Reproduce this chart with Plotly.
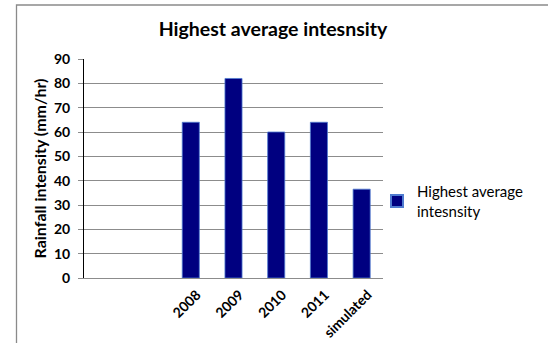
import plotly.graph_objects as go

# Categories (two empty slots precede the yearly values on the category axis)
categories = [" ", "  ", "2008", "2009", "2010", "2011", "simulated"]
intensity = [None, None, 64, 82, 60, 64, 36.5]
series_name = "Highest average<br>intesnsity"
y_ticks = [0, 10, 20, 30, 40, 50, 60, 70, 80, 90]

W, H = 548, 343
L, R, T, B = 84, 165, 59, 65
pw, ph = W - L - R, H - T - B

def px_x(p):
    return (p - L) / pw

def px_y(p):
    return (H - B - p) / ph

fig = go.Figure()
fig.add_trace(go.Bar(
    x=categories,
    y=intensity,
    name=series_name,
    marker=dict(color="#000080", line=dict(color="#4f7bd0", width=0.8)),
    showlegend=True,
))

fig.update_layout(
    width=W, height=H,
    margin=dict(l=L, r=R, t=T, b=B, autoexpand=False),
    paper_bgcolor="white",
    plot_bgcolor="white",
    bargap=0.6,
    font=dict(family="Lato", color="black"),
    title=dict(
        text="<b>Highest average intesnsity</b>",
        font=dict(family="Lato", size=19.5, color="black"),
        x=px_x(273), xref="paper", xanchor="center",
        y=1 - 29 / H, yref="container", yanchor="middle",
    ),
    showlegend=True,
    legend=dict(
        x=px_x(377), xanchor="left",
        y=px_y(175), yanchor="top",
        font=dict(family="Lato", size=15, color="black"),
        bgcolor="rgba(0,0,0,0)",
        itemsizing="constant",
    ),
    xaxis=dict(
        type="category",
        categoryorder="array",
        categoryarray=categories,
        range=[-0.5, len(categories) - 0.5],
        tickangle=-45,
        tickfont=dict(family="Lato", size=14, color="black", weight="bold"),
        ticklabelshift=6,
        ticklabelstandoff=2,
        showgrid=False,
        showline=True, linecolor="#8c8c8c", linewidth=1.3,
        ticks="",
        automargin=False,
        fixedrange=True,
    ),
    yaxis=dict(
        range=[0, 90],
        tickvals=y_ticks,
        tickfont=dict(family="Lato", size=14, color="black", weight="bold"),
        title=dict(
            text="<b>Rainfall intensity (mm/hr)</b>",
            font=dict(family="Lato", size=16, color="black"),
            standoff=3,
        ),
        showgrid=True, gridcolor="#8c8c8c", gridwidth=1.3,
        showline=True, linecolor="black", linewidth=1,
        ticks="outside", ticklen=5, tickcolor="#8c8c8c", tickwidth=1.3,
        ticklabelstandoff=5,
        zeroline=False,
        automargin=False,
        fixedrange=True,
    ),
)

# Chart-area frame
fig.add_shape(
    type="rect", xref="paper", yref="paper",
    x0=px_x(16.5), x1=px_x(W + 20),
    y0=px_y(H + 20), y1=px_y(5),
    line=dict(color="#8a8a8a", width=1.3),
    fillcolor="rgba(0,0,0,0)",
    layer="above",
)

fig.write_html("out.html")
